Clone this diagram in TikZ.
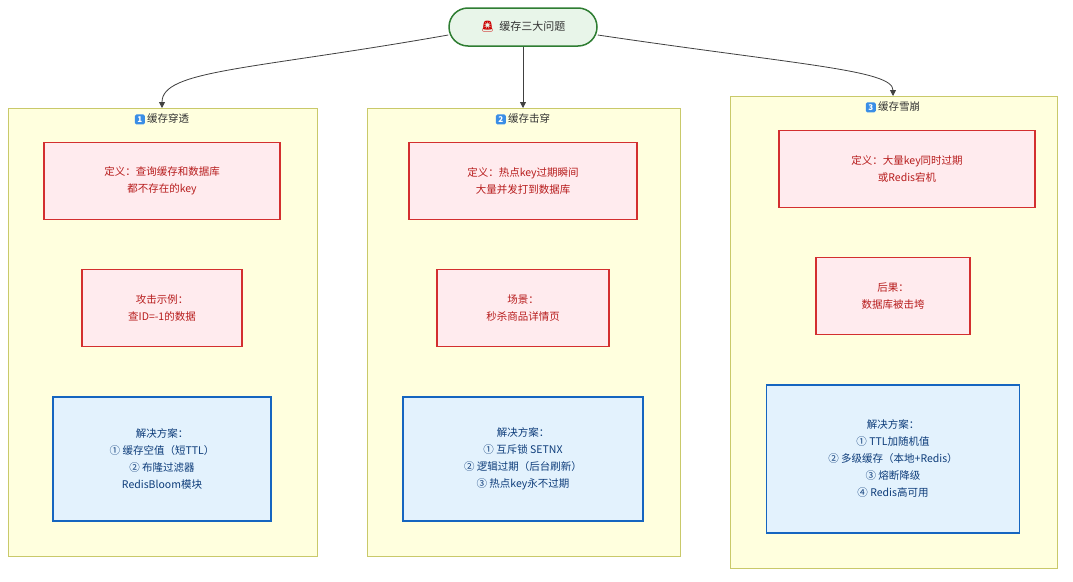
\documentclass[tikz,border=0pt]{standalone}
\usepackage{fontspec}
\setmainfont{Noto Sans CJK SC}
\newfontfamily\emoji{Noto Emoji}
\usetikzlibrary{arrows.meta}
\definecolor{cl}{HTML}{FFFFDE}
\definecolor{clb}{HTML}{C9C96A}
\definecolor{rf}{HTML}{FFEBEE}
\definecolor{rb}{HTML}{D32F2F}
\definecolor{rt}{HTML}{B71C1C}
\definecolor{bf}{HTML}{E3F2FD}
\definecolor{bb}{HTML}{1565C0}
\definecolor{bt}{HTML}{0D3C7A}
\definecolor{gf}{HTML}{E8F5E9}
\definecolor{gb}{HTML}{2E7D32}
\definecolor{kb}{HTML}{3A8EE6}
\tikzset{
 clus/.style={draw=clb,fill=cl,line width=0.8pt},
 rbox/.style={draw=rb,fill=rf,line width=1.2pt,text=rt,align=center,font=\fontsize{10.5}{17}\selectfont,anchor=center},
 bbox/.style={draw=bb,fill=bf,line width=1.2pt,text=bt,align=center,font=\fontsize{10.5}{17}\selectfont,anchor=center},
 conn/.style={draw=black!75,line width=0.8pt,-{Triangle[length=6pt,width=6pt]}},
 ttl/.style={font=\fontsize{10.5}{13}\selectfont,text=black!80},
}
\newcommand{\kc}[1]{\tikz[baseline=-3pt]{\node[fill=kb,rounded corners=1.5pt,text=white,font=\fontsize{8}{8}\selectfont\bfseries,minimum size=10pt,inner sep=0pt]{#1};}}
\begin{document}
\begin{tikzpicture}[x=1pt,y=-1pt]
\useasboundingbox (0,0) rectangle (1073,581);
\fill[white] (0,0) rectangle (1073,581);
% clusters
\draw[clus] (8,108) rectangle (317,556);
\draw[clus] (367,108) rectangle (680,556);
\draw[clus] (730,96) rectangle (1057,568);
\node[ttl] (t1) at (162,119) {\kc{1}\ 缓存穿透};
\node[ttl] (t2) at (523,119) {\kc{2}\ 缓存击穿};
\node[ttl] (t3) at (893,107) {\kc{3}\ 缓存雪崩};
\coordinate (c1) at (162,108);
\coordinate (c2) at (523,108);
\coordinate (c3) at (893,96);
% top
\node[draw=gb,fill=gf,line width=1.5pt,rounded corners=19pt,minimum width=148pt,minimum height=38pt,font=\fontsize{11}{13}\selectfont,text=black!80] (top) at (523,27) {{\emoji\color{red!80!black}🚨}\ \ 缓存三大问题};
\draw[conn] (top.west) ++(0,8) coordinate (tw) .. controls (250,70) and (162,70) .. (c1);
\draw[conn] (top.south) -- (c2);
\draw[conn] (top.east) ++(0,8) coordinate (te) .. controls (800,65) and (893,70) .. (c3);
% boxes
\node[rbox,minimum width=236pt,minimum height=77pt] (d1) at (162,181) {定义：查询缓存和数据库\\都不存在的key};
\node[rbox,minimum width=160pt,minimum height=77pt] (a1) at (162,308) {攻击示例：\\查ID=-1的数据};
\node[bbox,minimum width=218pt,minimum height=124pt] (s1) at (162,459) {解决方案：\\① 缓存空值（短TTL）\\② 布隆过滤器\\RedisBloom模块};
\node[rbox,minimum width=228pt,minimum height=77pt] (d2) at (523,181) {定义：热点key过期瞬间\\大量并发打到数据库};
\node[rbox,minimum width=172pt,minimum height=77pt] (a2) at (523,308) {场景：\\秒杀商品详情页};
\node[bbox,minimum width=240pt,minimum height=124pt] (s2) at (523,459) {解决方案：\\① 互斥锁 SETNX\\② 逻辑过期（后台刷新）\\③ 热点key永不过期};
\node[rbox,minimum width=256pt,minimum height=77pt] (d3) at (907,169) {定义：大量key同时过期\\或Redis宕机};
\node[rbox,minimum width=154pt,minimum height=77pt] (a3) at (893,296) {后果：\\数据库被击垮};
\node[bbox,minimum width=253pt,minimum height=148pt] (s3) at (893,459) {解决方案：\\① TTL加随机值\\② 多级缓存（本地+Redis）\\③ 熔断降级\\④ Redis高可用};
\end{tikzpicture}
\end{document}
